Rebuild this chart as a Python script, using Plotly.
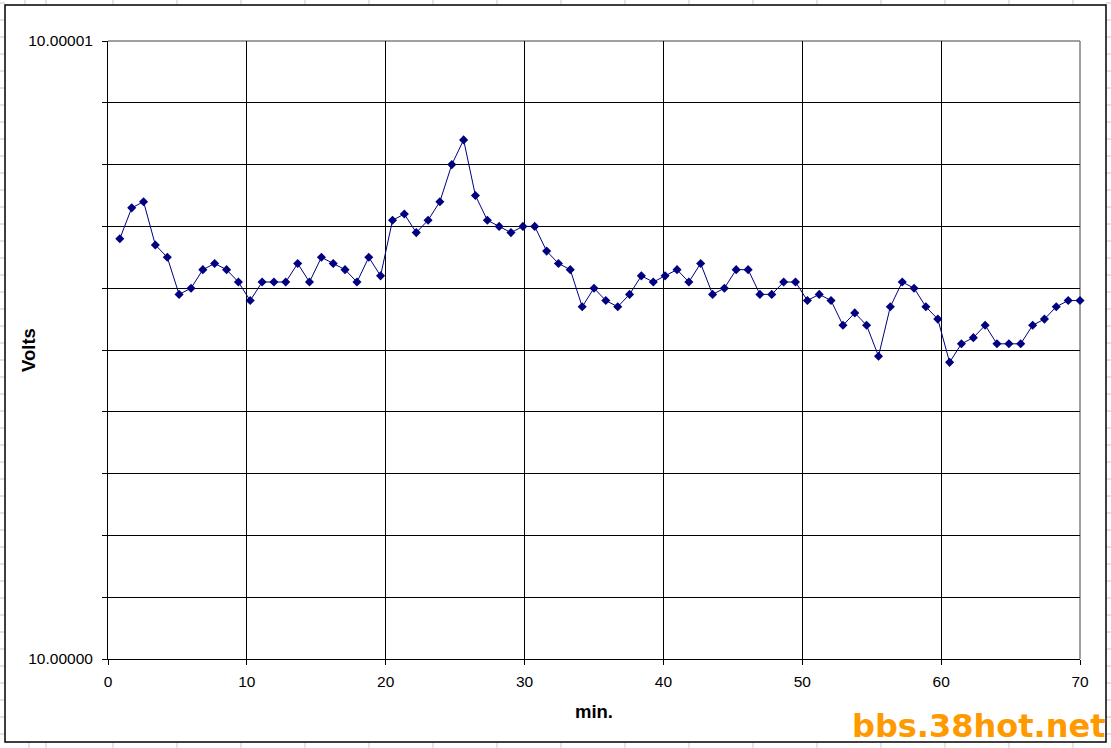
import plotly.graph_objects as go

# ---------------- data ----------------
minutes = [
    0.85, 1.71, 2.56, 3.41, 4.27, 5.12, 5.98, 6.83, 7.68, 8.54,
    9.39, 10.24, 11.10, 11.95, 12.80, 13.66, 14.51, 15.37, 16.22, 17.07,
    17.93, 18.78, 19.63, 20.49, 21.34, 22.20, 23.05, 23.90, 24.76, 25.61,
    26.46, 27.32, 28.17, 29.02, 29.88, 30.73, 31.59, 32.44, 33.29, 34.15,
    35.00, 35.85, 36.71, 37.56, 38.41, 39.27, 40.12, 40.98, 41.83, 42.68,
    43.54, 44.39, 45.24, 46.10, 46.95, 47.80, 48.66, 49.51, 50.37, 51.22,
    52.07, 52.93, 53.78, 54.63, 55.49, 56.34, 57.20, 58.05, 58.90, 59.76,
    60.61, 61.46, 62.32, 63.17, 64.02, 64.88, 65.73, 66.59, 67.44, 68.29,
    69.15, 70.00,
]
volts = [
    10.0000068, 10.0000073, 10.0000074, 10.0000067, 10.0000065, 10.0000059, 10.0000060, 10.0000063, 10.0000064, 10.0000063,
    10.0000061, 10.0000058, 10.0000061, 10.0000061, 10.0000061, 10.0000064, 10.0000061, 10.0000065, 10.0000064, 10.0000063,
    10.0000061, 10.0000065, 10.0000062, 10.0000071, 10.0000072, 10.0000069, 10.0000071, 10.0000074, 10.0000080, 10.0000084,
    10.0000075, 10.0000071, 10.0000070, 10.0000069, 10.0000070, 10.0000070, 10.0000066, 10.0000064, 10.0000063, 10.0000057,
    10.0000060, 10.0000058, 10.0000057, 10.0000059, 10.0000062, 10.0000061, 10.0000062, 10.0000063, 10.0000061, 10.0000064,
    10.0000059, 10.0000060, 10.0000063, 10.0000063, 10.0000059, 10.0000059, 10.0000061, 10.0000061, 10.0000058, 10.0000059,
    10.0000058, 10.0000054, 10.0000056, 10.0000054, 10.0000049, 10.0000057, 10.0000061, 10.0000060, 10.0000057, 10.0000055,
    10.0000048, 10.0000051, 10.0000052, 10.0000054, 10.0000051, 10.0000051, 10.0000051, 10.0000054, 10.0000055, 10.0000057,
    10.0000058, 10.0000058,
]
x_ticks = [0, 10, 20, 30, 40, 50, 60, 70]
y_ticks = [10.0, 10.000001, 10.000002, 10.000003, 10.000004, 10.000005,
           10.000006, 10.000007, 10.000008, 10.000009, 10.00001]
y_ticktext = ["10.00000", "", "", "", "", "", "", "", "", "", "10.00001"]
x_title = "min."
y_title = "Volts"
watermark = "bbs.38hot.net"

# ---------------- layout geometry (pixels) ----------------
W, H = 1111, 748
L, R, T, B = 108, 1080, 41, 659
PW, PH = R - L, B - T


def xp(px):
    return (px - L) / PW


def yp(py):
    return (B - py) / PH


FONT = "Liberation Sans, Arial, sans-serif"
NAVY = "#000080"

fig = go.Figure()
fig.add_trace(go.Scatter(
    x=minutes, y=volts, mode="lines+markers",
    line=dict(color=NAVY, width=1),
    marker=dict(symbol="diamond", size=7, color=NAVY),
    showlegend=False, cliponaxis=False,
))

shapes = []
# spreadsheet cells peeking around the chart object
cell = dict(color="#c8c8c8", width=1)
left_path = "".join(f"M{xp(0)},{yp(py)} L{xp(5)},{yp(py)} " for py in range(3, 748, 17))
right_path = "".join(f"M{xp(1106)},{yp(py)} L{xp(1111)},{yp(py)} " for py in range(3, 748, 17))
top_cols = [25, 46] + list(range(113, 1111, 64))
bot_cols = [29, 46] + list(range(113, 1111, 64))
top_path = "".join(f"M{xp(px)},{yp(0)} L{xp(px)},{yp(5)} " for px in top_cols)
bot_path = "".join(f"M{xp(px)},{yp(742)} L{xp(px)},{yp(748)} " for px in bot_cols)
for p in (left_path, right_path, top_path, bot_path):
    shapes.append(dict(type="path", xref="paper", yref="paper", path=p, line=cell, layer="below"))
# chart area border
shapes.append(dict(type="rect", xref="paper", yref="paper",
                   x0=xp(5), x1=xp(1106), y0=yp(742), y1=yp(5),
                   line=dict(color="black", width=1.5), fillcolor="rgba(0,0,0,0)", layer="below"))
# plot area border (grey, top and right)
shapes.append(dict(type="line", xref="paper", yref="paper", x0=0, x1=1, y0=1, y1=1,
                   line=dict(color="#808080", width=1.5), layer="between"))
shapes.append(dict(type="line", xref="paper", yref="paper", x0=1, x1=1, y0=0, y1=1,
                   line=dict(color="#808080", width=1.5), layer="between"))

annotations = [
    dict(text=f"<b>{y_title}</b>", textangle=-90, xref="paper", yref="paper",
         x=xp(28), y=yp(350), xanchor="center", yanchor="middle", showarrow=False,
         font=dict(family=FONT, size=18.5, color="black")),
    dict(text=f"<b>{watermark}</b>", xref="paper", yref="paper",
         x=xp(1108), y=yp(747), xanchor="right", yanchor="bottom", showarrow=False,
         font=dict(family="DejaVu Sans, sans-serif", size=32, color="#FF9900")),
]

fig.update_layout(
    width=W, height=H,
    margin=dict(l=L, r=W - R, t=T, b=H - B, pad=0),
    paper_bgcolor="white", plot_bgcolor="white",
    shapes=shapes, annotations=annotations,
    font=dict(family=FONT, color="black"),
    xaxis=dict(
        range=[0, 70], tickvals=x_ticks, ticks="outside", ticklen=5, tickwidth=1,
        tickcolor="black", showline=True, linecolor="black", linewidth=1,
        showgrid=True, gridcolor="black", gridwidth=1, zeroline=False,
        tickfont=dict(family=FONT, size=15.5, color="black"),
        ticklabelstandoff=3,
        title=dict(text=f"<b>{x_title}</b>", standoff=16,
                   font=dict(family=FONT, size=18.5, color="black")),
        fixedrange=True,
    ),
    yaxis=dict(
        range=[10.0, 10.00001], tickvals=y_ticks, ticktext=y_ticktext,
        ticks="outside", ticklen=5, tickwidth=1, tickcolor="black",
        showline=True, linecolor="black", linewidth=1,
        showgrid=True, gridcolor="black", gridwidth=1, zeroline=False,
        tickfont=dict(family=FONT, size=15.5, color="black"),
        ticklabelstandoff=6,
        fixedrange=True,
    ),
)

fig.write_html(
    "out.html",
    config={"displayModeBar": False},
    post_script="document.body.style.margin='0';document.body.style.overflow='hidden';",
)
